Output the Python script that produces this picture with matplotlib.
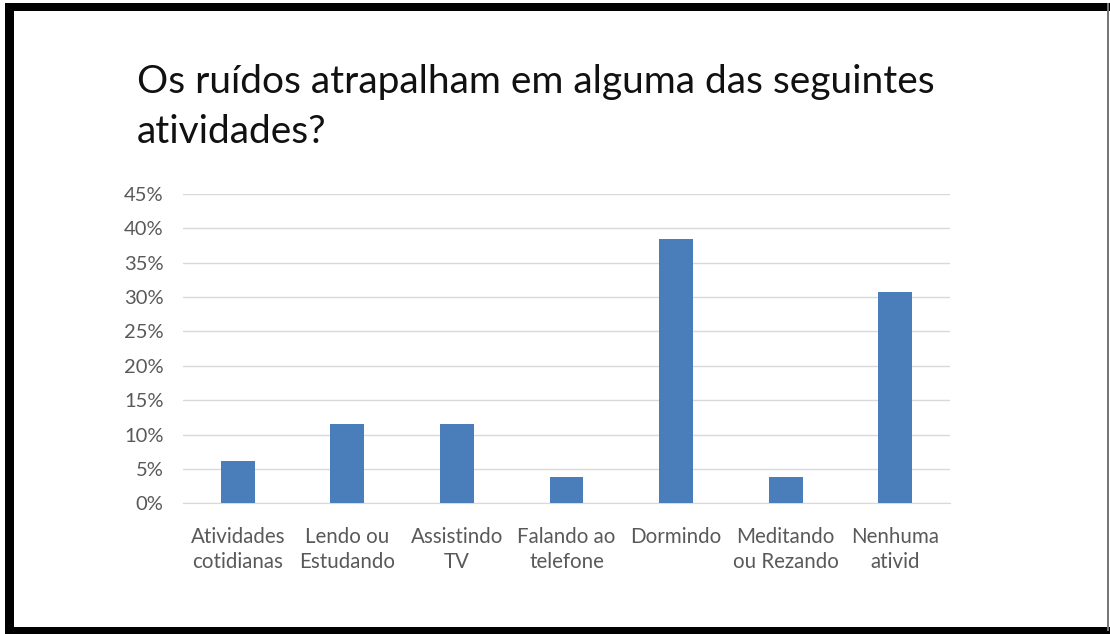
import matplotlib.pyplot as plt
from matplotlib.patches import Rectangle
from matplotlib.ticker import FuncFormatter

# data
categorias = ["Atividades\ncotidianas", "Lendo ou\nEstudando", "Assistindo\nTV",
              "Falando ao\ntelefone", "Dormindo", "Meditando\nou Rezando", "Nenhuma\nativid"]
percentuais = [6.2, 11.5, 11.5, 3.8, 38.5, 3.8, 30.8]
yticks = [0, 5, 10, 15, 20, 25, 30, 35, 40, 45]
titulo = ["Os ruídos atrapalham em alguma das seguintes", "atividades?"]

W, H = 1110, 634
plt.rcParams['font.family'] = ['Lato', 'DejaVu Sans']

fig = plt.figure(figsize=(W / 100, H / 100), dpi=100)
ax = fig.add_axes([183 / W, 1 - 503.3 / H, (950 - 183) / W, (503.3 - 194) / H])

x = list(range(len(categorias)))
ax.bar(x, percentuais, width=0.31, color="#4A7EBB", zorder=3)

ax.set_xlim(-0.5, len(categorias) - 0.5)
ax.set_ylim(0, 45)
ax.set_yticks(yticks)
ax.yaxis.set_major_formatter(FuncFormatter(lambda v, p: f"{v:.0f}%"))
ax.set_xticks(x)
ax.set_xticklabels(categorias, fontsize=14.8, color="#595959", linespacing=1.3)
ax.tick_params(axis='y', length=0, pad=14, labelsize=14.5, labelcolor="#595959")
ax.tick_params(axis='x', length=0, pad=17)
ax.grid(axis='y', color="#D9D9D9", linewidth=1, zorder=0)
for s in ["top", "right", "left"]:
    ax.spines[s].set_visible(False)
ax.spines["bottom"].set_color("#D9D9D9")
ax.spines["bottom"].set_zorder(2)

# title, two lines
fig.text(137 / W, 1 - 93 / H, titulo[0], fontsize=28, color="#111111", va='baseline', ha='left')
fig.text(137 / W, 1 - 143 / H, titulo[1], fontsize=28, color="#111111", va='baseline', ha='left')

# black frame around the picture
def px_rect(x0, y0, w, h, color):
    fig.patches.append(Rectangle((x0 / W, 1 - (y0 + h) / H), w / W, h / H,
                                 transform=fig.transFigure, color=color, lw=0))

px_rect(5, 3, 1105, 8, "black")      # top
px_rect(5, 3, 9, 628, "black")       # left
px_rect(5, 627, 1105, 7, "black")    # bottom
px_rect(1107, 3, 2, 628, "#777777")  # right, thin

fig.savefig("out.png", dpi=100)
